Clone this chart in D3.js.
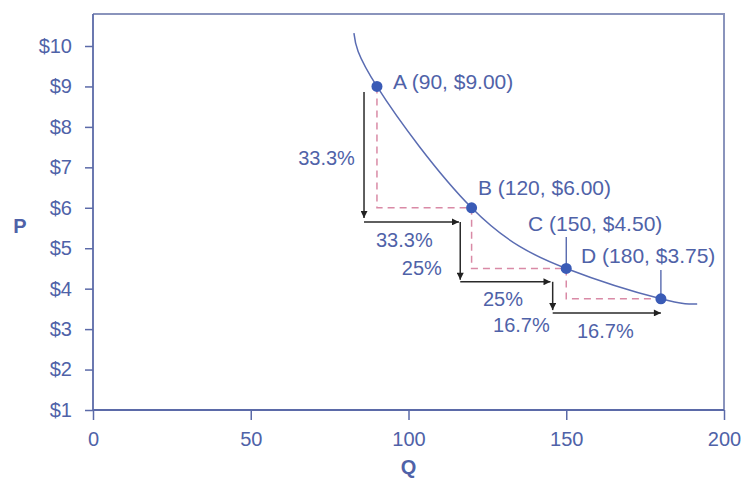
<!DOCTYPE html>
<html><head><meta charset="utf-8">
<script src="https://cdn.jsdelivr.net/npm/d3@7"></script>
<style>
html,body{margin:0;padding:0;background:#fff;}
text{font-family:"Liberation Sans",Arial,Helvetica,sans-serif;}
</style>
</head><body>
<svg id="chart" width="741" height="481"></svg>
<script>
// ---- data ----
const xTicks = [0, 50, 100, 150, 200];
const yTicks = [1, 2, 3, 4, 5, 6, 7, 8, 9, 10];
const pointNames = ["A", "B", "C", "D"];
const pointQ = [90, 120, 150, 180];
const pointP = [9.00, 6.00, 4.50, 3.75];
// demand curve (Q, P) traced through the points
const curveQ = [82.7, 90, 120, 150, 180, 191.5];
const curveP = [10.32, 9.00, 6.00, 4.50, 3.75, 3.62];
// black arrow segments (from Q,P to Q,P)
const arrowFromQ = [85.9, 85.9, 116.4, 116.4, 145.7, 145.7];
const arrowFromP = [8.86, 5.65, 5.65, 4.17, 4.17, 3.40];
const arrowToQ   = [85.9, 116.0, 116.4, 145.0, 145.7, 180.0];
const arrowToP   = [5.75, 5.65, 4.22, 4.17, 3.47, 3.40];
// percent labels
const pctText = ["33.3%", "33.3%", "25%", "25%", "16.7%", "16.7%"];
const pctQ    = [83.0, 89.7, 97.9, 123.6, 126.8, 153.4];
const pctP    = [7.23, 5.20, 4.51, 3.74, 3.10, 2.95];
const pctAnchor = ["end", "start", "start", "start", "start", "start"];
// point labels
const labelQ = [95.1, 122.0, 137.9, 154.7];
const labelP = [9.11, 6.51, 5.60, 4.81];

// ---- layout ----
const svg = d3.select("#chart");
const mLeft = 93, mRight = 724, mTop = 14, mBottom = 410;
const x = d3.scaleLinear().domain([0, 200]).range([mLeft, mRight]);
const y = d3.scaleLinear().domain([1, 10]).range([mBottom, 46]);

const axisCol = "#5b6aa8", textCol = "#4f62a8", frameCol = "#8a94bc";

// frame
svg.append("path")
  .attr("d", `M${mLeft},${mTop}H${mRight}V${mBottom}`)
  .attr("fill", "none").attr("stroke", frameCol).attr("stroke-width", 2);

// axes
const gx = svg.append("g").attr("transform", `translate(0,${mBottom})`)
  .call(d3.axisBottom(x).tickValues(xTicks).tickSize(10).tickPadding(12).tickSizeOuter(0));
const gy = svg.append("g").attr("transform", `translate(${mLeft},0)`)
  .call(d3.axisLeft(y).tickValues(yTicks).tickSize(8).tickPadding(13).tickSizeOuter(0).tickFormat(d => "$" + d));
[gx, gy].forEach(g => {
  g.select(".domain").attr("stroke", axisCol).attr("stroke-width", 1.8);
  g.selectAll(".tick line").attr("stroke", axisCol).attr("stroke-width", 1.5);
  g.selectAll(".tick text").attr("fill", textCol).style("font-size", "20px")
    .style("font-family", '"Liberation Sans",Arial,sans-serif');
});
gy.select(".domain").attr("d", `M0,${mTop}V${mBottom}`);
gx.select(".domain").attr("d", `M${mLeft},0H${mRight}`);

// axis titles
svg.append("text").attr("x", 20).attr("y", 226).attr("dy", "0.35em")
  .attr("text-anchor", "middle").attr("fill", textCol)
  .style("font-size", "20px").style("font-weight", "bold").text("P");
svg.append("text").attr("x", (mLeft + mRight) / 2).attr("y", 467).attr("dy", "0.35em")
  .attr("text-anchor", "middle").attr("fill", textCol)
  .style("font-size", "20px").style("font-weight", "bold").text("Q");

// dashed pink guides
const dashCol = "#d98aa6";
for (let i = 0; i < pointQ.length - 1; i++) {
  svg.append("path")
    .attr("d", `M${x(pointQ[i])},${y(pointP[i])}V${y(pointP[i + 1])}H${x(pointQ[i + 1])}`)
    .attr("fill", "none").attr("stroke", dashCol).attr("stroke-width", 1.5)
    .attr("stroke-dasharray", "7,5");
}

// curve
const curvePts = curveQ.map((q, i) => [q, curveP[i]]);
svg.append("path")
  .attr("d", d3.line().x(d => x(d[0])).y(d => y(d[1])).curve(d3.curveNatural)(curvePts))
  .attr("fill", "none").attr("stroke", "#5a6cb2").attr("stroke-width", 1.5);

// arrows
svg.append("defs").append("marker")
  .attr("id", "arr").attr("viewBox", "0 0 10 10").attr("refX", 10).attr("refY", 5)
  .attr("markerWidth", 10).attr("markerHeight", 7).attr("markerUnits", "userSpaceOnUse")
  .attr("orient", "auto")
  .append("path").attr("d", "M0,0L10,5L0,10z").attr("fill", "#222");
arrowFromQ.forEach((q, i) => {
  svg.append("line")
    .attr("x1", x(q)).attr("y1", y(arrowFromP[i]))
    .attr("x2", x(arrowToQ[i])).attr("y2", y(arrowToP[i]))
    .attr("stroke", "#2a2a2a").attr("stroke-width", 1.5)
    .attr("marker-end", "url(#arr)");
});

// percent labels
pctText.forEach((t, i) => {
  svg.append("text").attr("x", x(pctQ[i])).attr("y", y(pctP[i])).attr("dy", "0.35em")
    .attr("text-anchor", pctAnchor[i]).attr("fill", textCol)
    .style("font-size", "20px").text(t);
});

// leader lines for C and D
svg.append("line").attr("x1", x(pointQ[2])).attr("x2", x(pointQ[2]))
  .attr("y1", y(labelP[2]) + 13).attr("y2", y(pointP[2]))
  .attr("stroke", "#4a5ea8").attr("stroke-width", 1.3);
svg.append("line").attr("x1", x(pointQ[3])).attr("x2", x(pointQ[3]))
  .attr("y1", y(labelP[3]) + 14).attr("y2", y(pointP[3]))
  .attr("stroke", "#4a5ea8").attr("stroke-width", 1.3);

// points
pointQ.forEach((q, i) => {
  svg.append("circle").attr("cx", x(q)).attr("cy", y(pointP[i])).attr("r", 5.5)
    .attr("fill", "#3a5bb6");
  svg.append("text").attr("x", x(labelQ[i])).attr("y", y(labelP[i])).attr("dy", "0.35em")
    .attr("fill", textCol).style("font-size", "21px")
    .text(`${pointNames[i]} (${q}, $${pointP[i].toFixed(2)})`);
});
</script>
</body></html>
